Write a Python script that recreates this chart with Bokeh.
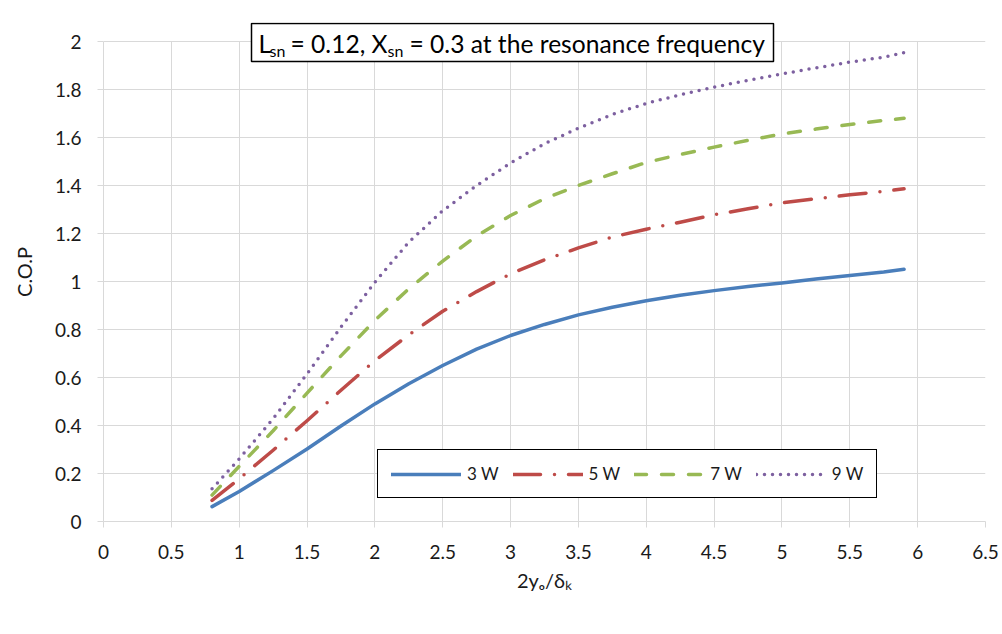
from bokeh.plotting import figure
from bokeh.models import (Range1d, SingleIntervalTicker, NumeralTickFormatter, Label,
                          BoxAnnotation, Legend, LegendItem)
from bokeh.embed import file_html
from bokeh.resources import INLINE

# ---- data ----
x_vals = [0.8, 1.0, 1.25, 1.5, 1.75, 2.0, 2.25, 2.5, 2.75, 3.0, 3.25, 3.5, 3.75,
          4.0, 4.25, 4.5, 4.75, 5.0, 5.25, 5.5, 5.75, 5.9]
cop_3w = [0.062, 0.125, 0.212, 0.302, 0.398, 0.490, 0.574, 0.650, 0.718, 0.775, 0.821,
          0.861, 0.893, 0.920, 0.943, 0.962, 0.979, 0.994, 1.010, 1.025, 1.040, 1.051]
cop_5w = [0.088, 0.178, 0.297, 0.420, 0.547, 0.670, 0.778, 0.876, 0.958, 1.032, 1.090,
          1.140, 1.185, 1.218, 1.247, 1.278, 1.303, 1.328, 1.345, 1.361, 1.376, 1.386]
cop_7w = [0.110, 0.230, 0.378, 0.535, 0.690, 0.838, 0.970, 1.085, 1.190, 1.275, 1.345,
          1.400, 1.449, 1.496, 1.529, 1.560, 1.588, 1.615, 1.635, 1.654, 1.671, 1.680]
cop_9w = [0.136, 0.261, 0.428, 0.615, 0.810, 0.997, 1.164, 1.295, 1.400, 1.494, 1.574,
          1.639, 1.696, 1.742, 1.778, 1.810, 1.838, 1.865, 1.890, 1.914, 1.935, 1.954]
series_labels = ["3 W", "5 W", "7 W", "9 W"]
x_ticks_step = 0.5
y_ticks_step = 0.2

FONT = "Lato"
GRID = "#d9d9d9"
TXT = "#1a1a1a"

# geometry (pixels): x=0 at FL, x=6.5 at FR, y=0 at FB, y=2 at FT
FL, FR, FT, FB = 103, 985, 41, 521
FRAME_TOP = 22
W, H = 1002, 634
X0, X1, Y0, Y1 = 0.0, 6.5, 0.0, 2.0
PX_PER_Y = (FB - FT) / (Y1 - Y0)
Y_END = Y0 + (FB - FRAME_TOP) / PX_PER_Y


def px2x(px):
    return X0 + (px - FL) * (X1 - X0) / (FR - FL)


def py2y(py):
    return Y0 + (FB - py) / PX_PER_Y


p = figure(width=W, height=H, output_backend="svg", toolbar_location=None,
           x_range=Range1d(X0, X1), y_range=Range1d(Y0, Y_END),
           min_border_left=FL, min_border_right=W - FR,
           min_border_top=FRAME_TOP, min_border_bottom=H - FB)
p.outline_line_color = None
p.background_fill_color = "white"
p.border_fill_color = "white"

p.xaxis.ticker = SingleIntervalTicker(interval=x_ticks_step, num_minor_ticks=0)
p.yaxis.ticker = SingleIntervalTicker(interval=y_ticks_step, num_minor_ticks=0)
p.yaxis.bounds = (Y0, Y1)
for ax in (p.xaxis, p.yaxis):
    ax.formatter = NumeralTickFormatter(format="0.[0]")
    ax.axis_line_color = GRID
    ax.major_tick_line_color = GRID
    ax.major_tick_out = 6
    ax.major_tick_in = 0
    ax.minor_tick_line_color = None
    ax.major_label_text_font = FONT
    ax.major_label_text_font_size = "19px"
    ax.major_label_text_color = TXT
    ax.axis_label_text_font = FONT
    ax.axis_label_text_font_size = "20px"
    ax.axis_label_text_font_style = "normal"
    ax.axis_label_text_color = TXT
p.xaxis.major_label_standoff = 17
p.yaxis.major_label_standoff = 16
p.yaxis.axis_label = "C.O.P"
p.yaxis.axis_label_standoff = 16
p.xaxis.axis_label = "2y\u2092/\u03b4\u2096"
p.xaxis.axis_label_standoff = 6

p.xgrid.grid_line_color = GRID
p.ygrid.grid_line_color = GRID
p.xgrid.grid_line_width = 1
p.ygrid.grid_line_width = 1
p.xgrid.cross_bounds = (Y0, Y1)

r1 = p.line(x_vals, cop_3w, line_color="#4A7EBB", line_width=3.5,
            line_cap="round", line_join="round")
r2 = p.line(x_vals, cop_5w, line_color="#BE4B48", line_width=3.5,
            line_cap="round", line_join="round", line_dash="27 14 0 14")
r3 = p.line(x_vals, cop_7w, line_color="#98B954", line_width=3.5,
            line_cap="round", line_join="round", line_dash="12 15")
r4 = p.line(x_vals, cop_9w, line_color="#7D60A0", line_width=3.5,
            line_cap="round", line_join="round", line_dash="0 8")

legend = Legend(items=[LegendItem(label=lab, renderers=[r])
                       for lab, r in zip(series_labels, [r1, r2, r3, r4])],
                orientation="horizontal", location=(274, 23),
                glyph_width=70, glyph_height=20, label_height=20,
                label_standoff=6, spacing=14, padding=13, margin=0,
                border_line_color="black", border_line_width=1.5, border_line_alpha=1,
                background_fill_color="white", background_fill_alpha=1,
                label_text_font=FONT, label_text_font_size="17px", label_text_color=TXT)
p.add_layout(legend)

# title box with subscripts
box = BoxAnnotation(left=px2x(251), right=px2x(773), top=py2y(23), bottom=py2y(61),
                    fill_color="white", fill_alpha=1, line_color="black", line_width=1.5,
                    line_alpha=1)
p.add_layout(box)


def add_text(txt, px, py, size):
    p.add_layout(Label(x=px2x(px), y=py2y(py), text=txt, text_font=FONT,
                       text_font_size=size, text_color="black",
                       text_align="left", text_baseline="alphabetic"))


add_text("L", 258, 43, "24.6px")
add_text("sn", 269, 50, "16px")
add_text("= 0.12, X", 290, 43, "24.6px")
add_text("sn", 387, 50, "16px")
add_text("= 0.3 at the resonance frequency", 409, 43, "24.6px")

open("out.html", "w").write(file_html(p, INLINE))
